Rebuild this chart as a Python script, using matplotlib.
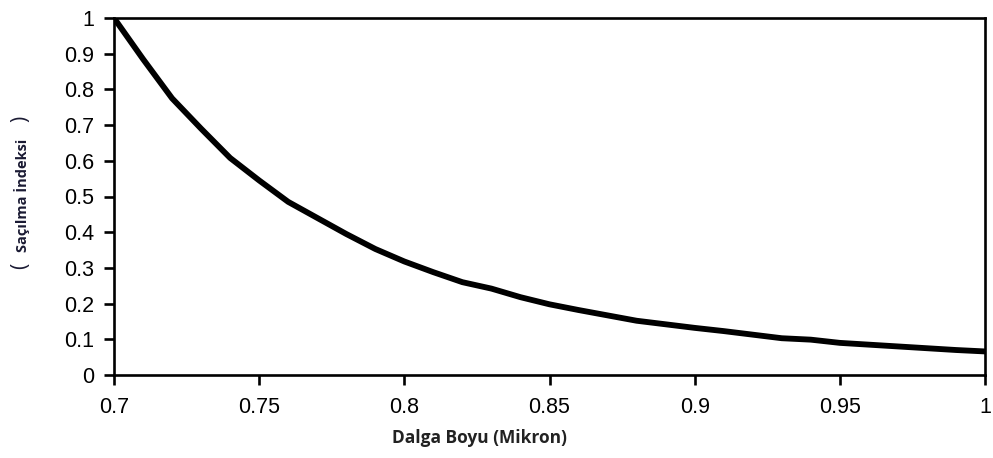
import matplotlib
matplotlib.use("Agg")
import matplotlib.pyplot as plt

# wavelength (micron) and scattering index
wavelength = [0.70, 0.71, 0.72, 0.73, 0.74, 0.75, 0.76, 0.77, 0.78, 0.79,
              0.80, 0.81, 0.82, 0.83, 0.84, 0.85, 0.86, 0.87, 0.88, 0.89,
              0.90, 0.91, 0.92, 0.93, 0.94, 0.95, 0.96, 0.97, 0.98, 0.99, 1.00]
scatter_index = [1.000, 0.885, 0.775, 0.690, 0.608, 0.545, 0.485, 0.440, 0.395, 0.353,
                 0.318, 0.288, 0.260, 0.242, 0.218, 0.198, 0.182, 0.167, 0.152, 0.142,
                 0.132, 0.123, 0.113, 0.103, 0.099, 0.090, 0.085, 0.080, 0.075, 0.070,
                 0.066]

x_ticks = [0.7, 0.75, 0.8, 0.85, 0.9, 0.95, 1.0]
x_tick_labels = ["0.7", "0.75", "0.8", "0.85", "0.9", "0.95", "1"]
y_ticks = [0, 0.1, 0.2, 0.3, 0.4, 0.5, 0.6, 0.7, 0.8, 0.9, 1.0]
y_tick_labels = ["0", "0.1", "0.2", "0.3", "0.4", "0.5", "0.6", "0.7", "0.8", "0.9", "1"]

W, H = 993, 458
fig = plt.figure(figsize=(W / 100, H / 100), dpi=100)
ax = fig.add_axes([114 / W, 1 - 375 / H, 871 / W, 357 / H])

ax.plot(wavelength, scatter_index, color="black", lw=4.2, solid_joinstyle="round",
        solid_capstyle="round")

ax.set_xlim(0.7, 1.0)
ax.set_ylim(0, 1.0)
ax.set_xticks(x_ticks)
ax.set_xticklabels(x_tick_labels)
ax.set_yticks(y_ticks)
ax.set_yticklabels(y_tick_labels)

for s in ax.spines.values():
    s.set_linewidth(1.9)
ax.tick_params(direction="out", length=7, width=1.9, labelsize=15.5, pad=7)
ax.tick_params(axis="x", pad=9)
for lab in ax.get_xticklabels() + ax.get_yticklabels():
    lab.set_family("Liberation Sans")

fig.text(480 / W, 1 - 438 / H, "Dalga Boyu (Mikron)", ha="center", va="center",
         fontsize=12.5, fontweight="bold", family="Open Sans", color="#222222")

# y label: text plus larger parentheses on either side
ylab_kw = dict(ha="center", va="center", rotation=90, family="Open Sans",
               color="#1a1a33")
fig.text(22 / W, 1 - 195 / H, "Saçılma İndeksi", fontsize=10.5,
         fontweight="bold", **ylab_kw)
fig.text(21 / W, 1 - 266 / H, "(", fontsize=15, **ylab_kw)
fig.text(21 / W, 1 - 119 / H, ")", fontsize=15, **ylab_kw)

fig.savefig("out.png", dpi=100)
